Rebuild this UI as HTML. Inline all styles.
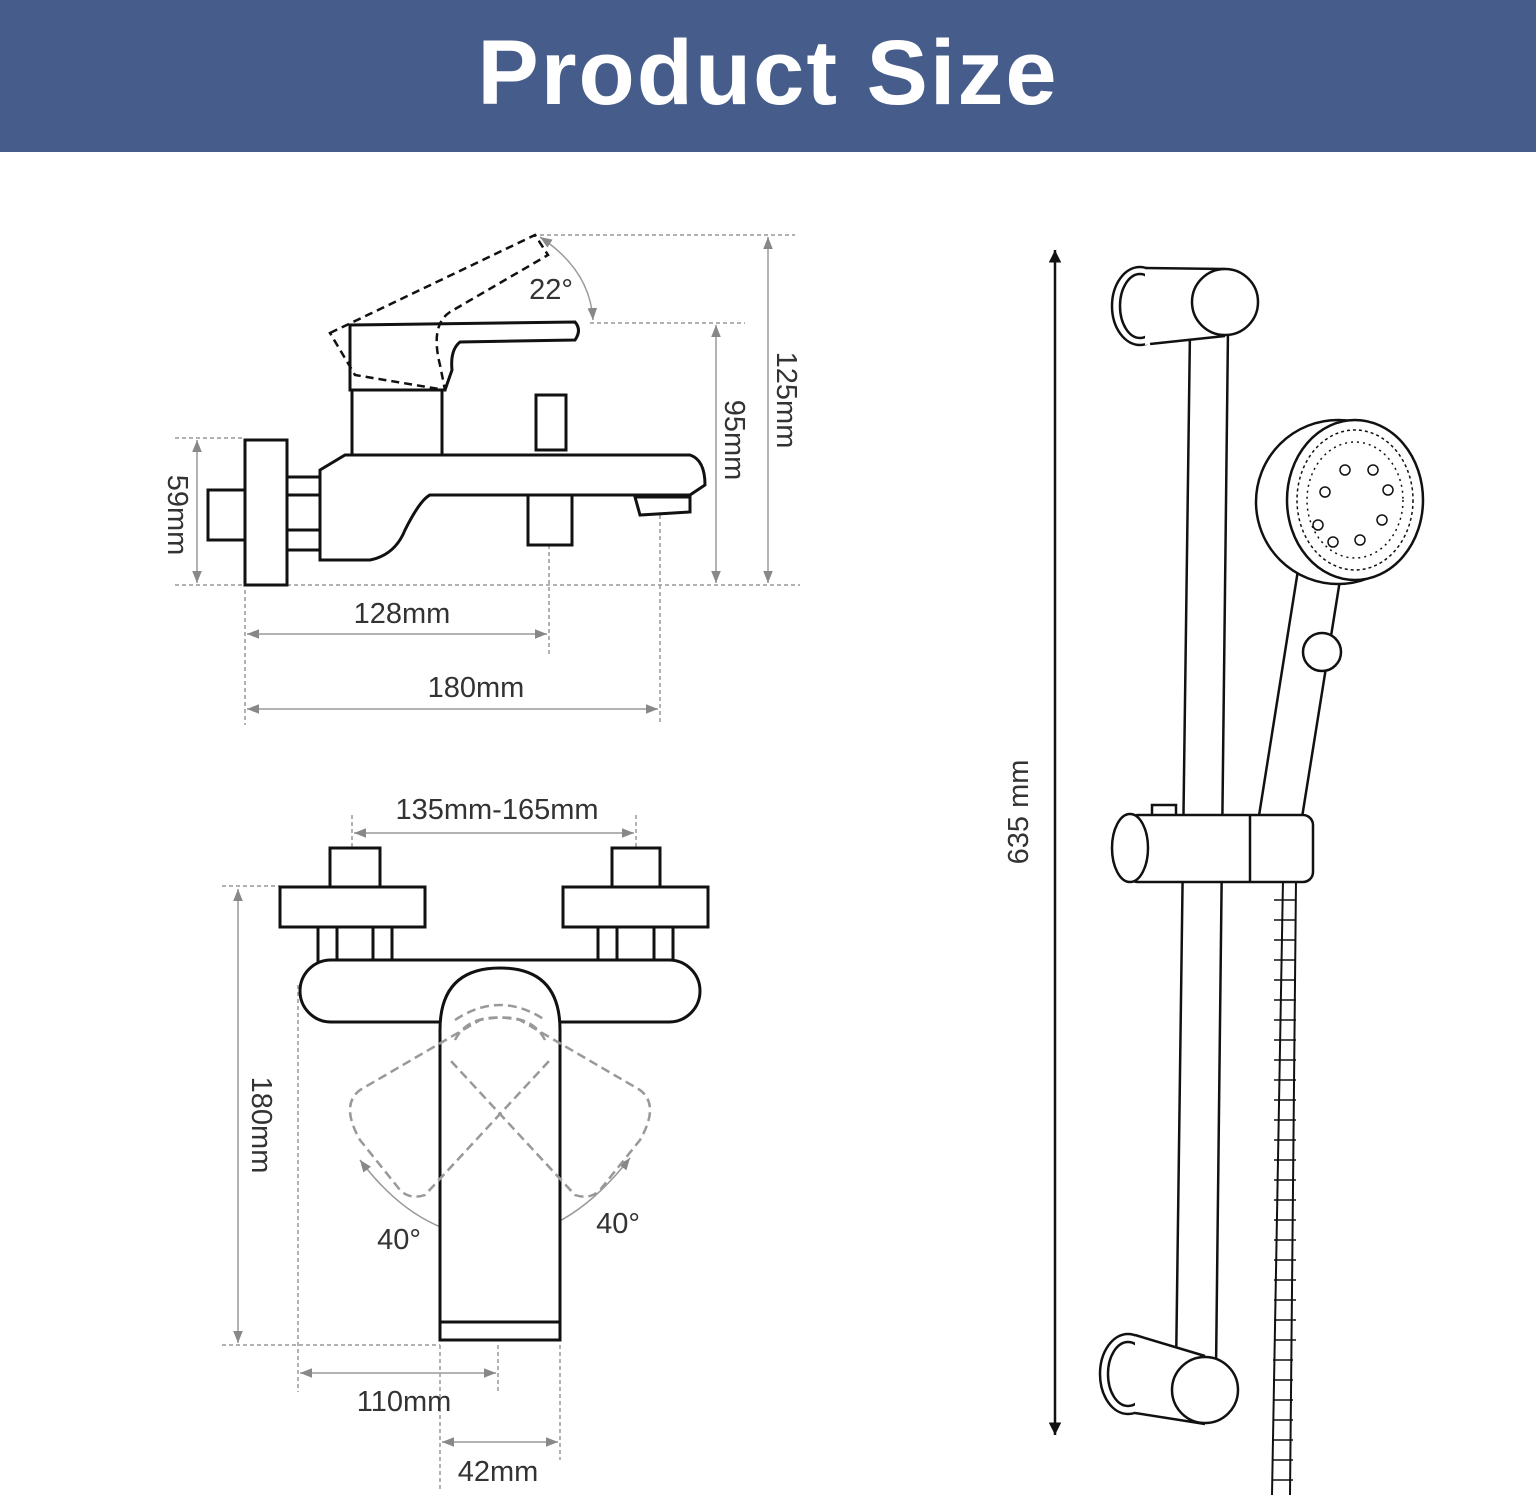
<!DOCTYPE html>
<html><head><meta charset="utf-8"><style>
html,body{margin:0;padding:0;background:#fff;}
body{width:1536px;height:1500px;overflow:hidden;position:relative;font-family:"Liberation Sans",sans-serif;}
.hdr{position:absolute;left:0;top:0;width:1536px;height:152px;background:#465C8B;color:#fff;font-size:92px;font-weight:bold;text-align:center;line-height:146px;letter-spacing:2px;}
svg{position:absolute;left:0;top:0;}
</style></head><body>
<div class="hdr">Product Size</div>
<svg width="1536" height="1500" viewBox="0 0 1536 1500">
<defs>
<marker id="ar" viewBox="0 0 10 10" refX="10" refY="5" markerWidth="8" markerHeight="8" orient="auto-start-reverse"><path d="M0,1 L10,5 L0,9 Z" fill="#888"/></marker>
<marker id="ab" viewBox="0 0 10 10" refX="10" refY="5" markerWidth="5" markerHeight="5" orient="auto-start-reverse"><path d="M0,0 L10,5 L0,10 Z" fill="#111"/></marker>
</defs>
<g fill="none" stroke="#999" stroke-width="1.5">
 <g stroke-dasharray="4,3">
  <line x1="175" y1="438" x2="245" y2="438"/><line x1="175" y1="585" x2="800" y2="585"/>
  <line x1="540" y1="235" x2="795" y2="235"/><line x1="590" y1="323" x2="745" y2="323"/>
  <line x1="245" y1="590" x2="245" y2="725"/><line x1="549" y1="545" x2="549" y2="655"/><line x1="660" y1="515" x2="660" y2="725"/>
  <line x1="352" y1="815" x2="352" y2="848"/><line x1="636" y1="815" x2="636" y2="848"/>
  <line x1="222" y1="886" x2="280" y2="886"/><line x1="222" y1="1345" x2="440" y2="1345"/>
  <line x1="298" y1="985" x2="298" y2="1392"/><line x1="498" y1="1345" x2="498" y2="1392"/>
  <line x1="440" y1="1345" x2="440" y2="1490"/><line x1="560" y1="1345" x2="560" y2="1460"/>
 </g>
 <line x1="197" y1="440" x2="197" y2="583" marker-start="url(#ar)" marker-end="url(#ar)"/>
 <line x1="716" y1="325" x2="716" y2="583" marker-start="url(#ar)" marker-end="url(#ar)"/>
 <line x1="768" y1="237" x2="768" y2="583" marker-start="url(#ar)" marker-end="url(#ar)"/>
 <line x1="247" y1="634" x2="547" y2="634" marker-start="url(#ar)" marker-end="url(#ar)"/>
 <line x1="247" y1="709" x2="658" y2="709" marker-start="url(#ar)" marker-end="url(#ar)"/>
 <line x1="354" y1="833" x2="634" y2="833" marker-start="url(#ar)" marker-end="url(#ar)"/>
 <line x1="238" y1="889" x2="238" y2="1343" marker-start="url(#ar)" marker-end="url(#ar)"/>
 <line x1="300" y1="1373" x2="496" y2="1373" marker-start="url(#ar)" marker-end="url(#ar)"/>
 <line x1="442" y1="1442" x2="558" y2="1442" marker-start="url(#ar)" marker-end="url(#ar)"/>
 <path d="M540,237 Q590,270 593,320" marker-start="url(#ar)" marker-end="url(#ar)"/>
 <path d="M360,1160 Q420,1240 500,1238" marker-start="url(#ar)"/>
 <path d="M630,1158 Q570,1235 500,1238" marker-start="url(#ar)"/>
</g>
<g font-size="29" fill="#333" text-anchor="middle" font-family="Liberation Sans,sans-serif">
 <text x="551" y="299">22°</text>
 <text x="402" y="623">128mm</text>
 <text x="476" y="697">180mm</text>
 <text x="497" y="819">135mm-165mm</text>
 <text x="404" y="1411">110mm</text>
 <text x="498" y="1481">42mm</text>
 <text x="399" y="1249">40°</text>
 <text x="618" y="1233">40°</text>
 <text transform="translate(168,515) rotate(90)">59mm</text>
 <text transform="translate(725,440) rotate(90)">95mm</text>
 <text transform="translate(777,400) rotate(90)">125mm</text>
 <text transform="translate(252,1125) rotate(90)">180mm</text>
 <text transform="translate(1028,812) rotate(-90)">635 mm</text>
</g>
<g fill="#fff" stroke="#111" stroke-width="3">
 <rect x="208" y="490" width="37" height="50"/>
 <rect x="245" y="440" width="42" height="145"/>
 <rect x="287" y="477" width="33" height="73"/>
 <line x1="287" y1="495" x2="320" y2="495"/><line x1="287" y1="530" x2="320" y2="530"/>
 <path d="M320,470 L345,455 L690,455 Q705,460 705,485 L690,495 L430,495 Q420,500 405,530 Q395,555 370,560 L320,560 Z"/>
 <path d="M635,497 L690,497 L690,512 L640,515 Z"/>
 <rect x="528" y="495" width="44" height="50"/>
 <rect x="536" y="395" width="30" height="55"/>
 <rect x="352" y="385" width="90" height="70"/>
 <path d="M350,325 L575,322 Q582,330 575,340 L460,342 Q450,350 452,370 L445,390 L350,390 Z"/>
</g>
<path d="M330,333 L535,235 L548,255 L450,312 Q430,325 440,365 L445,390 L355,375 Z" fill="none" stroke="#111" stroke-width="2.5" stroke-dasharray="8,5"/>
<g fill="#fff" stroke="#111" stroke-width="3">
 <rect x="330" y="848" width="50" height="39"/>
 <rect x="280" y="887" width="145" height="40"/>
 <rect x="318" y="927" width="74" height="35"/>
 <line x1="337" y1="927" x2="337" y2="962"/><line x1="373" y1="927" x2="373" y2="962"/>
 <rect x="612" y="848" width="48" height="39"/>
 <rect x="563" y="887" width="145" height="40"/>
 <rect x="598" y="927" width="75" height="35"/>
 <line x1="617" y1="927" x2="617" y2="962"/><line x1="654" y1="927" x2="654" y2="962"/>
 <rect x="300" y="960" width="400" height="62" rx="31"/>
 <path d="M440,1340 L440,1030 Q440,968 500,968 Q560,968 560,1030 L560,1340 Z"/>
 <line x1="440" y1="1322" x2="560" y2="1322"/>
</g>
<g fill="none" stroke="#999" stroke-width="2.5" stroke-dasharray="9,5">
 <path d="M455,1040 Q470,1010 520,1020 L640,1090 Q660,1105 640,1140 L600,1190 Q590,1200 575,1195 L450,1060"/>
 <path d="M545,1040 Q530,1010 480,1020 L360,1090 Q340,1105 360,1140 L400,1190 Q410,1200 425,1195 L550,1060"/>
 <path d="M455,1020 Q500,990 545,1020"/>
</g>
<line x1="1055" y1="250" x2="1055" y2="1435" stroke="#111" stroke-width="2.5" marker-start="url(#ab)" marker-end="url(#ab)"/>
<g fill="#fff" stroke="#111" stroke-width="2.5">
 <path d="M1190,330 L1176,1370 L1216,1370 L1228,330 Z"/>
 <ellipse cx="1140" cy="306" rx="28" ry="39"/>
 <ellipse cx="1140" cy="306" rx="20" ry="32"/>
 <path d="M1145,268 L1225,268 L1225,336 L1145,345 Z" stroke="none"/>
 <line x1="1145" y1="268" x2="1225" y2="269"/><line x1="1150" y1="344" x2="1225" y2="336"/>
 <circle cx="1225" cy="302" r="33"/>
 <ellipse cx="1128" cy="1374" rx="28" ry="40"/>
 <ellipse cx="1128" cy="1374" rx="20" ry="32"/>
 <path d="M1135,1336 L1205,1356 L1205,1424 L1135,1413 Z" stroke="none"/>
 <line x1="1135" y1="1335" x2="1205" y2="1356"/><line x1="1135" y1="1413" x2="1205" y2="1424"/>
 <circle cx="1205" cy="1390" r="33"/>
 <path d="M1283,880 L1272,1495 M1296,880 L1290,1495" stroke-width="2"/>
 <path d="M1298,570 L1340,580 L1300,830 L1258,822 Z"/>
 <circle cx="1322" cy="652" r="19"/>
 <rect x="1152" y="805" width="24" height="14"/>
 <rect x="1128" y="815" width="185" height="67" rx="10"/>
 <ellipse cx="1130" cy="848" rx="18" ry="34"/>
 <line x1="1250" y1="815" x2="1250" y2="882"/>
 <circle cx="1338" cy="502" r="82"/>
 <ellipse cx="1355" cy="500" rx="68" ry="80"/>
 <ellipse cx="1355" cy="500" rx="58" ry="70" stroke-width="1.5" stroke-dasharray="3,3"/>
 <ellipse cx="1355" cy="500" rx="48" ry="58" stroke-width="1.5" stroke-dasharray="2,4"/>
 <g stroke-width="1.5">
  <circle cx="1345" cy="470" r="5"/><circle cx="1373" cy="470" r="5"/><circle cx="1325" cy="492" r="5"/>
  <circle cx="1388" cy="490" r="5"/><circle cx="1318" cy="525" r="5"/><circle cx="1382" cy="520" r="5"/>
  <circle cx="1333" cy="542" r="5"/><circle cx="1360" cy="540" r="5"/>
 </g>
</g>
<g stroke="#111" stroke-width="1.5">
 <path d="M1274,900 h22 M1274,920 h22 M1274,940 h22 M1274,960 h22 M1274,980 h22 M1274,1000 h22 M1274,1020 h22 M1274,1040 h22 M1274,1060 h22 M1274,1080 h22 M1274,1100 h22 M1274,1120 h22 M1274,1140 h22 M1274,1160 h22 M1274,1180 h22 M1274,1200 h22 M1274,1220 h22 M1274,1240 h22 M1274,1260 h22 M1274,1280 h22 M1274,1300 h22 M1274,1320 h22 M1274,1340 h22 M1273,1360 h20 M1273,1380 h20 M1273,1400 h20 M1273,1420 h20 M1273,1440 h20 M1273,1460 h20 M1273,1480 h20"/>
</g>
</svg>
</body></html>
